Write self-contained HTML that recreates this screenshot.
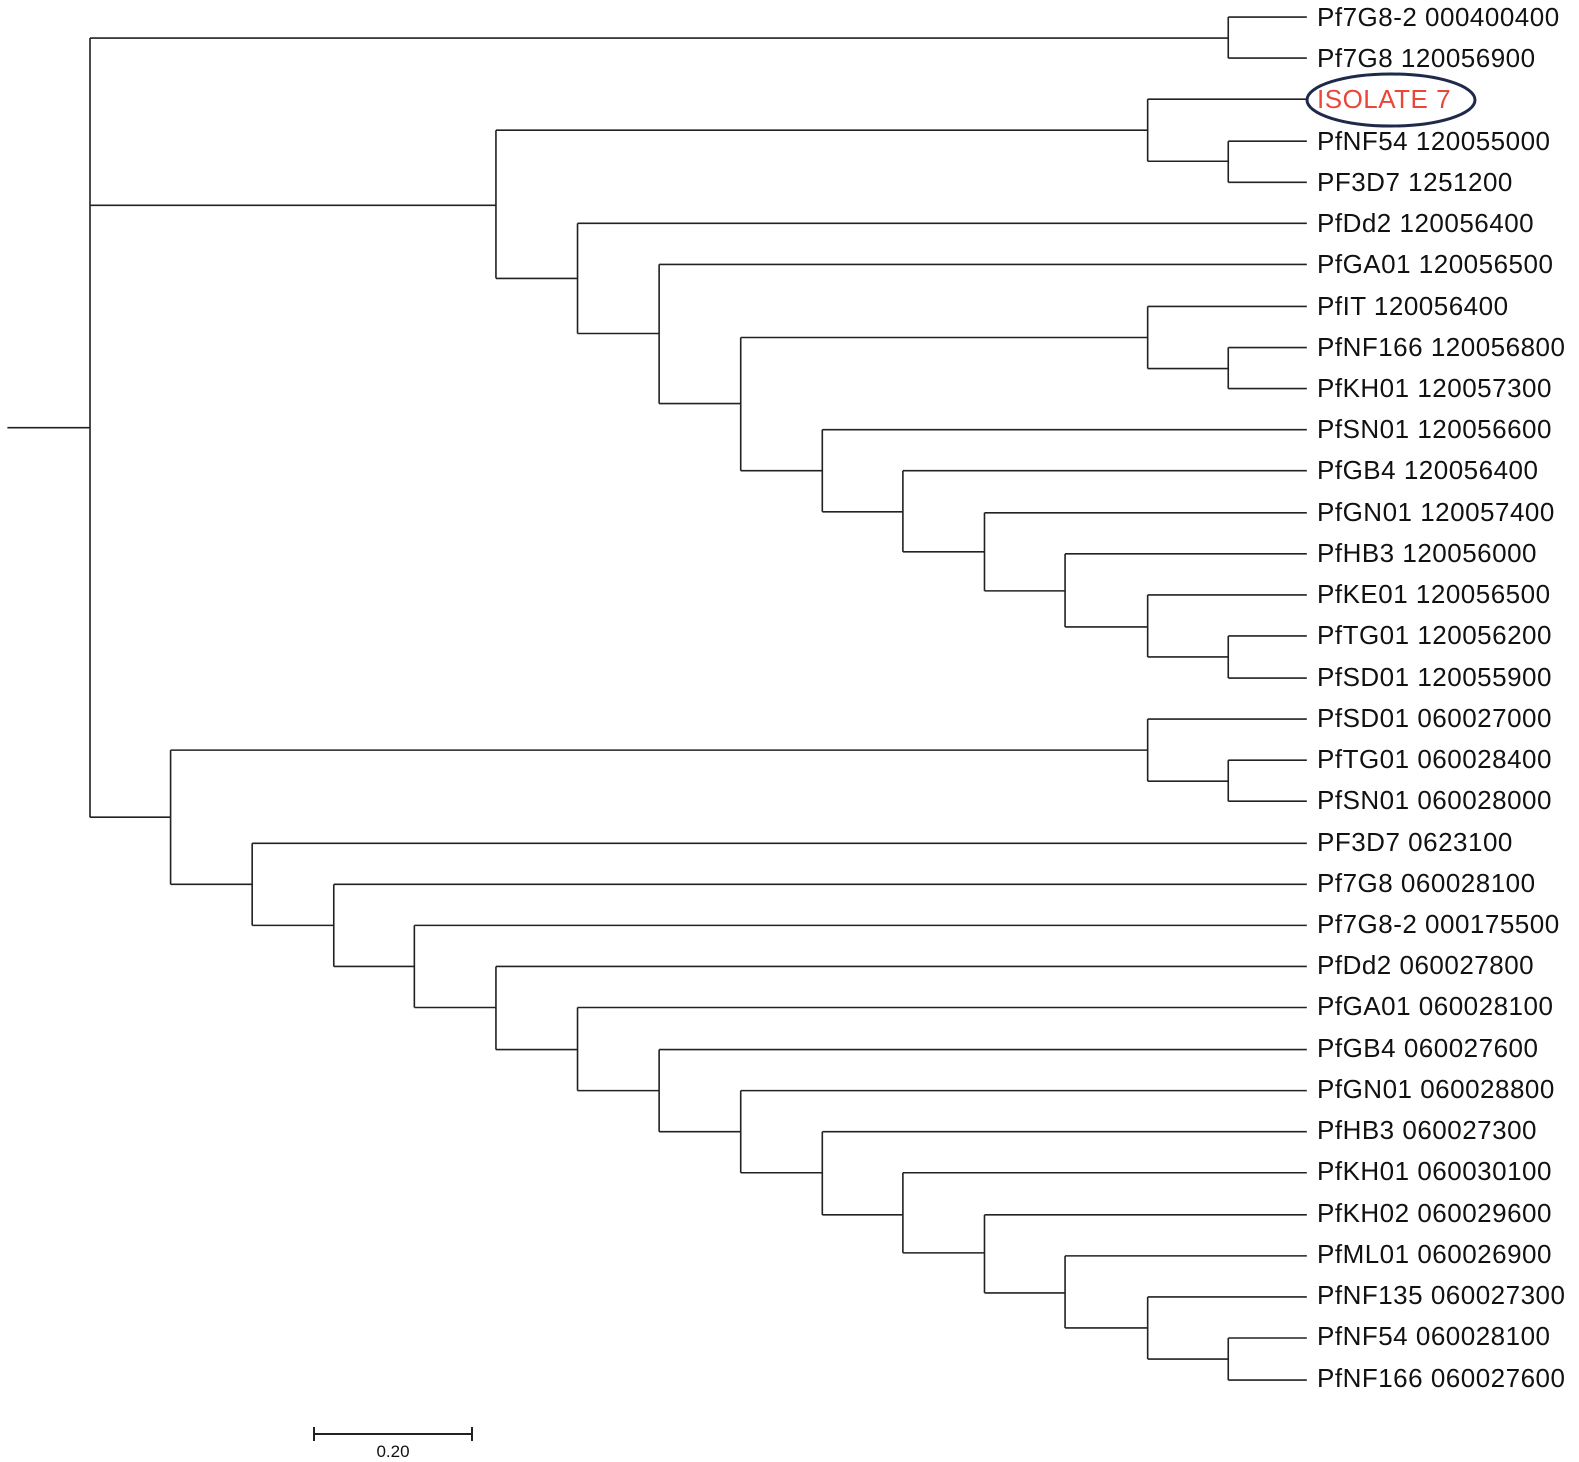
<!DOCTYPE html>
<html><head><meta charset="utf-8"><style>
html,body{margin:0;padding:0;background:#fff;}
svg{display:block;}
text{font-family:"Liberation Sans",Arial,sans-serif;font-size:26px;letter-spacing:0.5px;fill:#111;}
</style></head><body>
<svg width="1579" height="1462" viewBox="0 0 1579 1462" xmlns="http://www.w3.org/2000/svg">
<g transform="translate(90,1) scale(1.0073,1.0015) translate(-90,0)">
<path fill="none" stroke="#222" stroke-width="1.6" d="
M8 426 H90 M90 37 V815
M90 37 H1220 M1220 16 V57 M1220 16 H1298 M1220 57 H1298
M90 204 H493 M493 129 V277
M493 129 H1140 M1140 98 V160 M1140 98 H1298 M1140 160 H1220 M1220 140 V181 M1220 140 H1298 M1220 181 H1298
M493 277 H574 M574 222 V332 M574 222 H1298 M574 332 H655 M655 263 V402 M655 263 H1298 M655 402 H736 M736 336 V469 M736 336 H1140 M1140 305 V367 M1140 305 H1298 M1140 367 H1220 M1220 346 V387 M1220 346 H1298 M1220 387 H1298
M736 469 H817 M817 428 V510 M817 428 H1298 M817 510 H897 M897 469 V550 M897 469 H1298 M897 550 H978 M978 511 V589 M978 511 H1298 M978 589 H1058 M1058 552 V625 M1058 552 H1298 M1058 625 H1140 M1140 593 V655 M1140 593 H1298 M1140 655 H1220 M1220 634 V676 M1220 634 H1298 M1220 676 H1298
M90 815 H170 M170 748 V882 M170 748 H1140 M1140 717 V779 M1140 717 H1298 M1140 779 H1220 M1220 758 V799 M1220 758 H1298 M1220 799 H1298
M170 882 H251 M251 841 V923 M251 841 H1298 M251 923 H332 M332 882 V964 M332 882 H1298 M332 964 H412 M412 923 V1005 M412 923 H1298 M412 1005 H493 M493 964 V1047 M493 964 H1298 M493 1047 H574 M574 1005 V1088 M574 1005 H1298 M574 1088 H655 M655 1047 V1129 M655 1047 H1298 M655 1129 H736 M736 1088 V1170 M736 1088 H1298 M736 1170 H817 M817 1129 V1212 M817 1129 H1298 M817 1212 H897 M897 1170 V1250 M897 1170 H1298 M897 1250 H978 M978 1212 V1290 M978 1212 H1298 M978 1290 H1058 M1058 1253 V1325 M1058 1253 H1298 M1058 1325 H1140 M1140 1294 V1356 M1140 1294 H1298 M1140 1356 H1220 M1220 1335 V1377 M1220 1335 H1298 M1220 1377 H1298
"/>
</g>
<path fill="none" stroke="#222" stroke-width="2" d="M314 1434 H472 M314 1427 V1441 M472 1427 V1441"/>
<ellipse cx="1391" cy="100" rx="84" ry="26" fill="none" stroke="#1f2a4a" stroke-width="3"/>
<g>
<text x="1317" y="26">Pf7G8-2 000400400</text>
<text x="1317" y="67">Pf7G8 120056900</text>
<text x="1317" y="108" style="fill:#e8473a">ISOLATE 7</text>
<text x="1317" y="150">PfNF54 120055000</text>
<text x="1317" y="191">PF3D7 1251200</text>
<text x="1317" y="232">PfDd2 120056400</text>
<text x="1317" y="273">PfGA01 120056500</text>
<text x="1317" y="315">PfIT 120056400</text>
<text x="1317" y="356">PfNF166 120056800</text>
<text x="1317" y="397">PfKH01 120057300</text>
<text x="1317" y="438">PfSN01 120056600</text>
<text x="1317" y="479">PfGB4 120056400</text>
<text x="1317" y="521">PfGN01 120057400</text>
<text x="1317" y="562">PfHB3 120056000</text>
<text x="1317" y="603">PfKE01 120056500</text>
<text x="1317" y="644">PfTG01 120056200</text>
<text x="1317" y="686">PfSD01 120055900</text>
<text x="1317" y="727">PfSD01 060027000</text>
<text x="1317" y="768">PfTG01 060028400</text>
<text x="1317" y="809">PfSN01 060028000</text>
<text x="1317" y="851">PF3D7 0623100</text>
<text x="1317" y="892">Pf7G8 060028100</text>
<text x="1317" y="933">Pf7G8-2 000175500</text>
<text x="1317" y="974">PfDd2 060027800</text>
<text x="1317" y="1015">PfGA01 060028100</text>
<text x="1317" y="1057">PfGB4 060027600</text>
<text x="1317" y="1098">PfGN01 060028800</text>
<text x="1317" y="1139">PfHB3 060027300</text>
<text x="1317" y="1180">PfKH01 060030100</text>
<text x="1317" y="1222">PfKH02 060029600</text>
<text x="1317" y="1263">PfML01 060026900</text>
<text x="1317" y="1304">PfNF135 060027300</text>
<text x="1317" y="1345">PfNF54 060028100</text>
<text x="1317" y="1387">PfNF166 060027600</text>
</g>
<text x="393" y="1457" text-anchor="middle" style="font-size:17px;letter-spacing:0">0.20</text>
</svg>
</body></html>
